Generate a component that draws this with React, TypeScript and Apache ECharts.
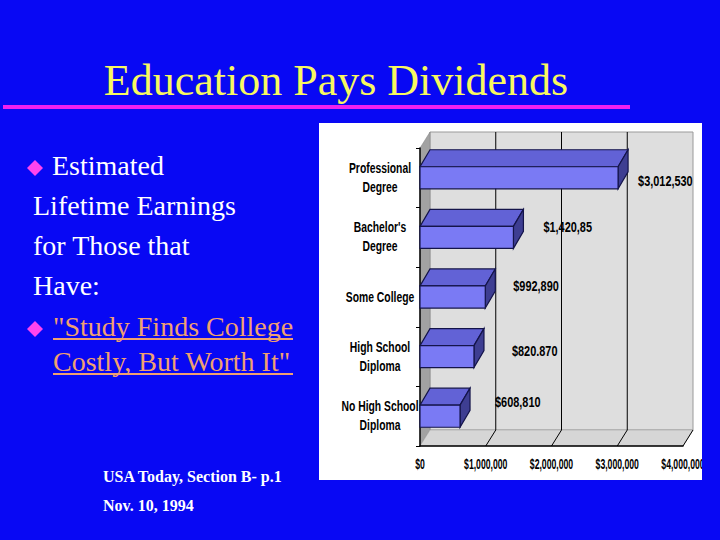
import React, { useEffect, useRef } from "react";
import * as echarts from "echarts";

// ---- data ----
const title = "Education Pays Dividends";
const categories = [
  "Professional\nDegree",
  "Bachelor's\nDegree",
  "Some College",
  "High School\nDiploma",
  "No High School\nDiploma",
];
const earnings = [3012530, 1420850, 992890, 820870, 608810];
const earningLabels = ["$3,012,530", "$1,420,85", "$992,890", "$820.870", "$608,810"];
const xTickLabels = ["$0", "$1,000,000", "$2,000,000", "$3,000,000", "$4,000,000"];
const X_MAX = 4000000;
const X_STEP = 1000000;
const bulletLines = ["Estimated", "Lifetime Earnings", "for Those that", "Have:"];
const quoteLines = ["\"Study Finds College", "Costly, But Worth It\""];
const sourceLines = ["USA Today, Section B- p.1", "Nov. 10, 1994"];

// ---- layout / style ----
const BLUE = "#0808F4";
const SERIF = '"Liberation Serif", "Times New Roman", serif';
const SANS = '"Liberation Sans", Arial, sans-serif';
const DX = 10; // 3D depth offset
const DY = -16;
const BDX = 10;
const BDY = -17;
const labelShift = [
  [10, 4],
  [20, -10],
  [18, -10],
  [28, -5],
  [25, -14],
];

export default function App() {
  const ref = useRef<HTMLDivElement>(null);

  useEffect(() => {
    document.body.style.margin = "0";
    if (!ref.current) return;
    const chart = echarts.init(ref.current, undefined, { renderer: "svg" });

    const graphics: any[] = [
      { type: "rect", z: -20, shape: { x: 319, y: 123, width: 383, height: 357 }, style: { fill: "#FFFFFF" } },
      { type: "rect", z: 100, shape: { x: 702, y: 118, width: 18, height: 370 }, style: { fill: BLUE } },
      {
        type: "text",
        x: 336,
        y: 80,
        style: { text: title, fill: "#F8F860", fontFamily: SERIF, fontSize: 44, align: "center", verticalAlign: "middle" },
      },
      { type: "line", shape: { x1: 3, y1: 107, x2: 630, y2: 107 }, style: { stroke: "#F020F0", lineWidth: 4 } },
      { type: "polygon", shape: { points: [[35, 160], [43, 168], [35, 176], [27, 168]] }, style: { fill: "#FF44EE" } },
      { type: "polygon", shape: { points: [[35, 321], [43, 329], [35, 337], [27, 329]] }, style: { fill: "#FF44EE" } },
    ];
    bulletLines.forEach((t, i) => {
      graphics.push({
        type: "text",
        x: i === 0 ? 52 : 33,
        y: 165 + i * 40,
        style: { text: t, fill: "#FFFFFF", fontFamily: SERIF, fontSize: 28, align: "left", verticalAlign: "middle" },
      });
    });
    quoteLines.forEach((t, i) => {
      const y = 326 + i * 35;
      graphics.push({
        type: "text",
        x: 53,
        y,
        style: { text: t, fill: "#F0A070", fontFamily: SERIF, fontSize: 28, align: "left", verticalAlign: "middle" },
      });
      graphics.push({
        type: "line",
        shape: { x1: 53, y1: y + 13, x2: 293, y2: y + 13 },
        style: { stroke: "#F0A070", lineWidth: 2 },
      });
    });
    sourceLines.forEach((t, i) => {
      graphics.push({
        type: "text",
        x: 103,
        y: 476 + i * 29,
        style: { text: t, fill: "#FFFFFF", fontFamily: SERIF, fontSize: 16, fontWeight: "bold", align: "left", verticalAlign: "middle" },
      });
    });

    const ticks: number[] = [];
    for (let v = 0; v <= X_MAX; v += X_STEP) ticks.push(v);

    const option: any = {
      animation: false,
      backgroundColor: BLUE,
      graphic: graphics,
      grid: { left: 420, top: 148, width: 263, height: 298, containLabel: false },
      xAxis: {
        type: "value",
        min: 0,
        max: X_MAX,
        interval: X_STEP,
        axisLine: { show: true, lineStyle: { color: "#000", width: 1.5 } },
        axisTick: { show: false },
        splitLine: { show: false },
        axisLabel: { show: false },
      },
      yAxis: {
        type: "category",
        data: categories,
        inverse: true,
        axisLine: { show: true, lineStyle: { color: "#000", width: 1.5 } },
        axisTick: { show: true, length: 4, lineStyle: { color: "#000" } },
        axisLabel: { show: false },
      },
      series: [
        {
          type: "custom",
          z: -5,
          silent: true,
          data: [[0, 0]],
          encode: { x: 0, y: 1 },
          renderItem: (params: any, api: any) => {
            const cs = params.coordSys;
            const x = cs.x, y = cs.y, w = cs.width, h = cs.height;
            const children: any[] = [
              {
                type: "polygon",
                shape: { points: [[x + DX, y + DY], [x + w + DX, y + DY], [x + w + DX, y + h + DY], [x + DX, y + h + DY]] },
                style: { fill: "#DEDEDE", stroke: "#9A9A9A", lineWidth: 1 },
              },
              {
                type: "polygon",
                shape: { points: [[x, y], [x + DX, y + DY], [x + DX, y + h + DY], [x, y + h]] },
                style: { fill: "#A2A2A2", stroke: "#808080", lineWidth: 0.5 },
              },
              {
                type: "polygon",
                shape: { points: [[x, y + h], [x + w, y + h], [x + w + DX, y + h + DY], [x + DX, y + h + DY]] },
                style: { fill: "#D6D6D6", stroke: "#9A9A9A", lineWidth: 0.5 },
              },
            ];
            ticks.forEach((v, i) => {
              const X = api.coord([v, 0])[0];
              if (v > 0 && v < X_MAX) {
                children.push({
                  type: "line",
                  shape: { x1: X + DX, y1: y + DY, x2: X + DX, y2: y + h + DY },
                  style: { stroke: "#000", lineWidth: 1 },
                });
              }
              if (v > 0) {
                children.push({
                  type: "line",
                  shape: { x1: X + DX, y1: y + h + DY, x2: X, y2: y + h },
                  style: { stroke: "#000", lineWidth: 1 },
                });
              }
              children.push({
                type: "text",
                x: X,
                y: y + h + 18,
                scaleX: 0.62,
                style: {
                  text: xTickLabels[i],
                  fill: "#000",
                  fontFamily: SANS,
                  fontWeight: "bold",
                  fontSize: 14,
                  align: "center",
                  verticalAlign: "middle",
                },
              });
            });
            categories.forEach((c, i) => {
              const p = api.coord([0, i]);
              children.push({
                type: "text",
                x: p[0] - 40,
                y: p[1],
                scaleX: 0.74,
                style: {
                  text: c,
                  fill: "#000",
                  fontFamily: SANS,
                  fontWeight: "bold",
                  fontSize: 14,
                  lineHeight: 19,
                  align: "center",
                  verticalAlign: "middle",
                },
              });
            });
            return { type: "group", children };
          },
        },
        {
          type: "custom",
          z: 3,
          data: earnings.map((v, i) => [v, i]),
          encode: { x: 0, y: 1 },
          renderItem: (params: any, api: any) => {
            const idx = api.value(1);
            const val = api.value(0);
            const p0 = api.coord([0, idx]);
            const p1 = api.coord([val, idx]);
            const band = api.size([0, 1])[1];
            const bh = band * 0.37;
            const yT = p0[1] - bh / 2;
            const yB = p0[1] + bh / 2;
            const x0 = p0[0];
            const x1 = p1[0];
            const stroke = "#14144A";
            const sh = labelShift[idx] || [20, -8];
            return {
              type: "group",
              children: [
                {
                  type: "polygon",
                  shape: { points: [[x0, yT], [x1, yT], [x1 + BDX, yT + BDY], [x0 + BDX, yT + BDY]] },
                  style: { fill: "#6262D6", stroke, lineWidth: 1.2 },
                },
                {
                  type: "polygon",
                  shape: { points: [[x1, yT], [x1 + BDX, yT + BDY], [x1 + BDX, yB + BDY], [x1, yB]] },
                  style: { fill: "#3E3E92", stroke, lineWidth: 1.2 },
                },
                {
                  type: "rect",
                  shape: { x: x0, y: yT, width: x1 - x0, height: bh },
                  style: { fill: "#7A7AF4", stroke, lineWidth: 1.2 },
                },
                {
                  type: "text",
                  x: x1 + BDX + sh[0],
                  y: p0[1] + sh[1],
                  scaleX: 0.78,
                  style: {
                    text: earningLabels[idx],
                    fill: "#000",
                    fontFamily: SANS,
                    fontWeight: "bold",
                    fontSize: 14,
                    align: "left",
                    verticalAlign: "middle",
                  },
                },
              ],
            };
          },
        },
      ],
    };

    chart.setOption(option);
    return () => chart.dispose();
  }, []);

  return <div ref={ref} style={{ width: 720, height: 540 }} />;
}
